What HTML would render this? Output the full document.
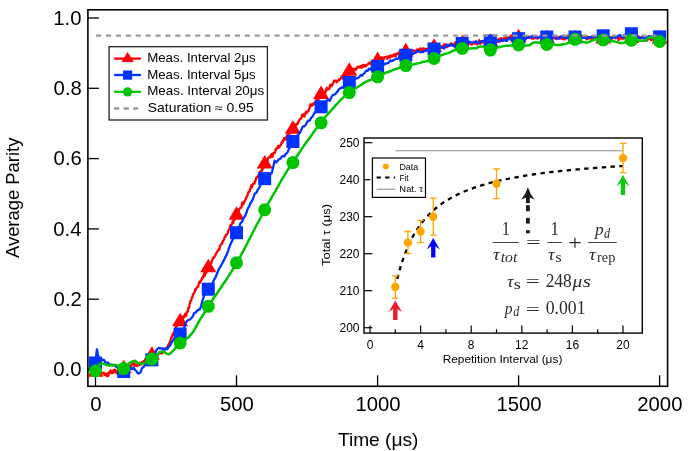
<!DOCTYPE html>
<html><head><meta charset="utf-8"><title>Average Parity vs Time</title>
<style>html,body{margin:0;padding:0;background:#fff}body{width:691px;height:451px;overflow:hidden;font-family:"Liberation Sans",sans-serif}</style></head>
<body>
<svg width="691" height="451" viewBox="0 0 691 451" style="display:block;font-family:'Liberation Sans',sans-serif;will-change:transform">
<rect width="691" height="451" fill="#fff"/>
<rect x="87.9" y="9.8" width="579.7" height="376.5" fill="none" stroke="#000" stroke-width="1.6"/>
<line x1="87.9" y1="369.5" x2="98.9" y2="369.5" stroke="#000" stroke-width="1.3"/>
<text transform="translate(53.30,376.25) scale(1.0300,1)" font-family="'Liberation Sans'" font-style="normal" font-size="19.70" fill="#000">0.0</text>
<line x1="87.9" y1="299.2" x2="98.9" y2="299.2" stroke="#000" stroke-width="1.3"/>
<text transform="translate(53.62,305.95) scale(1.0300,1)" font-family="'Liberation Sans'" font-style="normal" font-size="19.70" fill="#000">0.2</text>
<line x1="87.9" y1="228.9" x2="98.9" y2="228.9" stroke="#000" stroke-width="1.3"/>
<text transform="translate(53.30,235.65) scale(1.0300,1)" font-family="'Liberation Sans'" font-style="normal" font-size="19.70" fill="#000">0.4</text>
<line x1="87.9" y1="158.6" x2="98.9" y2="158.6" stroke="#000" stroke-width="1.3"/>
<text transform="translate(53.62,165.35) scale(1.0300,1)" font-family="'Liberation Sans'" font-style="normal" font-size="19.70" fill="#000">0.6</text>
<line x1="87.9" y1="88.3" x2="98.9" y2="88.3" stroke="#000" stroke-width="1.3"/>
<text transform="translate(53.62,95.05) scale(1.0300,1)" font-family="'Liberation Sans'" font-style="normal" font-size="19.70" fill="#000">0.8</text>
<line x1="87.9" y1="18.0" x2="98.9" y2="18.0" stroke="#000" stroke-width="1.3"/>
<text transform="translate(53.30,24.75) scale(1.0300,1)" font-family="'Liberation Sans'" font-style="normal" font-size="19.70" fill="#000">1.0</text>
<line x1="95.5" y1="386.3" x2="95.5" y2="375.3" stroke="#000" stroke-width="1.3"/>
<text transform="translate(90.29,410.60) scale(1.0300,1)" font-family="'Liberation Sans'" font-style="normal" font-size="19.70" fill="#000">0</text>
<line x1="236.5" y1="386.3" x2="236.5" y2="375.3" stroke="#000" stroke-width="1.3"/>
<text transform="translate(220.03,410.60) scale(1.0300,1)" font-family="'Liberation Sans'" font-style="normal" font-size="19.70" fill="#000">500</text>
<line x1="377.6" y1="386.3" x2="377.6" y2="375.3" stroke="#000" stroke-width="1.3"/>
<text transform="translate(355.50,410.60) scale(1.0300,1)" font-family="'Liberation Sans'" font-style="normal" font-size="19.70" fill="#000">1000</text>
<line x1="518.6" y1="386.3" x2="518.6" y2="375.3" stroke="#000" stroke-width="1.3"/>
<text transform="translate(496.52,410.60) scale(1.0300,1)" font-family="'Liberation Sans'" font-style="normal" font-size="19.70" fill="#000">1500</text>
<line x1="659.6" y1="386.3" x2="659.6" y2="375.3" stroke="#000" stroke-width="1.3"/>
<text transform="translate(637.31,410.60) scale(1.0300,1)" font-family="'Liberation Sans'" font-style="normal" font-size="19.70" fill="#000">2000</text>
<text transform="translate(337.90,445.60) scale(1.0647,1)" font-family="'Liberation Sans'" font-style="normal" font-size="18.00" fill="#000">Time (μs)</text>
<text transform="translate(18.80,258.00) rotate(-90) scale(1.0459,1)" font-family="'Liberation Sans'" font-style="normal" font-size="17.60" fill="#000">Average Parity</text>
<polyline points="95.5,373.6 96.1,372.0 96.6,371.9 97.2,373.0 97.7,372.2 98.3,372.5 98.9,371.8 99.4,370.9 100.0,373.0 100.5,372.5 101.1,372.0 101.7,372.8 102.2,373.4 102.8,373.1 103.3,373.4 103.9,372.6 104.5,375.1 105.0,374.8 105.6,374.8 106.1,373.6 106.7,376.1 107.3,374.4 107.8,373.5 108.4,375.9 108.9,373.2 109.5,371.6 110.1,372.0 110.6,370.4 111.2,373.2 111.7,371.6 112.3,371.1 112.9,373.0 113.4,370.3 114.0,371.9 114.5,369.6 115.1,370.6 115.7,370.2 116.2,372.6 116.8,373.3 117.3,371.8 117.9,372.8 118.5,371.5 119.0,372.1 119.6,370.1 120.1,368.6 120.7,368.5 121.3,370.4 121.8,372.1 122.4,370.0 122.9,368.8 123.5,370.8 124.1,369.4 124.6,368.5 125.2,369.4 125.7,369.3 126.3,369.5 126.9,368.0 127.4,369.9 128.0,368.7 128.5,369.9 129.1,367.8 129.7,365.6 130.2,367.3 130.8,368.2 131.3,365.4 131.9,364.4 132.5,364.0 133.0,363.5 133.6,364.1 134.1,363.3 134.7,365.8 135.3,364.4 135.8,364.6 136.4,365.8 136.9,366.1 137.5,364.5 138.1,364.8 138.6,365.3 139.2,364.4 139.7,362.8 140.3,364.8 140.9,364.5 141.4,363.5 142.0,362.1 142.5,362.4 143.1,361.7 143.7,361.1 144.2,362.2 144.8,360.8 145.3,359.5 145.9,358.8 146.5,359.3 147.0,358.4 147.6,359.3 148.1,358.3 148.7,358.8 149.3,360.8 149.8,359.2 150.4,357.2 150.9,356.5 151.5,355.0 152.1,355.8 152.6,356.1 153.2,354.6 153.7,356.7 154.3,356.5 154.9,358.0 155.4,356.4 156.0,357.4 156.5,354.6 157.1,354.1 157.7,354.3 158.2,354.5 158.8,353.8 159.3,352.1 159.9,353.0 160.5,353.3 161.0,352.5 161.6,352.0 162.1,353.4 162.7,351.2 163.3,350.0 163.8,351.2 164.4,349.9 164.9,349.3 165.5,349.6 166.1,348.4 166.6,347.6 167.2,347.3 167.7,346.5 168.3,344.9 168.9,344.6 169.4,342.9 170.0,342.6 170.5,339.8 171.1,337.7 171.7,337.9 172.2,335.5 172.8,333.8 173.3,335.1 173.9,332.5 174.5,332.1 175.0,329.8 175.6,328.0 176.1,326.0 176.7,326.3 177.3,325.8 177.8,324.7 178.4,324.1 178.9,322.5 179.5,322.8 180.1,320.2 180.6,320.8 181.2,321.3 181.7,320.6 182.3,320.8 182.9,316.4 183.4,317.9 184.0,317.2 184.5,316.9 185.1,313.8 185.7,315.6 186.2,315.7 186.8,311.9 187.3,311.9 187.9,311.2 188.5,307.5 189.0,307.9 189.6,304.3 190.1,302.2 190.7,300.8 191.3,300.2 191.8,297.6 192.4,297.3 192.9,294.6 193.5,293.8 194.1,293.5 194.6,292.2 195.2,289.3 195.7,290.1 196.3,288.1 196.9,287.7 197.4,286.7 198.0,286.9 198.5,285.2 199.1,282.1 199.7,281.7 200.2,282.5 200.8,280.1 201.3,280.4 201.9,279.0 202.5,277.2 203.0,277.9 203.6,275.3 204.1,273.5 204.7,276.0 205.3,271.5 205.8,273.0 206.4,272.5 206.9,270.8 207.5,268.1 208.1,269.6 208.6,266.0 209.2,264.5 209.7,264.1 210.3,264.4 210.9,263.2 211.4,262.9 212.0,260.6 212.5,259.9 213.1,257.8 213.7,257.4 214.2,257.3 214.8,256.0 215.3,255.7 215.9,254.0 216.5,252.7 217.0,252.4 217.6,250.8 218.1,250.4 218.7,249.2 219.3,249.8 219.8,246.4 220.4,245.9 220.9,244.3 221.5,244.1 222.1,243.6 222.6,241.6 223.2,240.8 223.7,240.0 224.3,238.3 224.9,236.7 225.4,236.8 226.0,234.9 226.5,234.8 227.1,234.3 227.7,233.2 228.2,230.9 228.8,230.0 229.3,229.4 229.9,227.3 230.5,225.0 231.0,226.8 231.6,224.3 232.1,223.6 232.7,221.5 233.3,222.9 233.8,220.2 234.4,219.9 234.9,217.6 235.5,217.6 236.1,216.3 236.6,214.8 237.2,214.1 237.7,213.2 238.3,212.4 238.9,209.8 239.4,208.8 240.0,208.3 240.5,207.6 241.1,207.6 241.7,206.5 242.2,202.6 242.8,204.3 243.3,204.4 243.9,202.4 244.5,200.9 245.0,201.0 245.6,199.1 246.1,198.6 246.7,196.3 247.3,196.0 247.8,194.0 248.4,192.0 248.9,192.1 249.5,191.6 250.1,189.2 250.6,188.0 251.2,185.4 251.7,187.7 252.3,185.9 252.9,184.1 253.4,183.6 254.0,183.1 254.5,183.5 255.1,181.1 255.7,180.0 256.2,178.0 256.8,177.3 257.3,177.6 257.9,176.3 258.5,175.1 259.0,175.1 259.6,172.3 260.1,171.8 260.7,172.2 261.3,172.0 261.8,169.4 262.4,170.0 262.9,167.0 263.5,167.0 264.1,165.1 264.6,163.1 265.2,163.4 265.7,163.4 266.3,161.5 266.9,161.2 267.4,161.6 268.0,158.5 268.5,157.5 269.1,157.3 269.7,156.4 270.2,157.6 270.8,156.0 271.3,154.1 271.9,154.5 272.5,156.9 273.0,153.5 273.6,152.9 274.1,153.3 274.7,153.0 275.3,151.4 275.8,149.3 276.4,148.3 276.9,148.9 277.5,147.6 278.1,145.8 278.6,147.8 279.2,147.2 279.7,146.2 280.3,145.6 280.9,145.1 281.4,143.4 282.0,141.7 282.5,142.6 283.1,139.8 283.7,140.4 284.2,138.1 284.8,138.9 285.3,138.1 285.9,139.5 286.5,136.5 287.0,135.4 287.6,135.3 288.1,133.6 288.7,133.1 289.3,133.7 289.8,133.5 290.4,133.3 290.9,130.5 291.5,133.2 292.1,131.5 292.6,129.0 293.2,127.1 293.7,128.6 294.3,127.4 294.9,124.9 295.4,125.9 296.0,124.8 296.5,123.7 297.1,124.3 297.7,123.8 298.2,122.0 298.8,121.6 299.3,120.0 299.9,119.2 300.5,118.9 301.0,118.6 301.6,117.2 302.1,114.9 302.7,116.3 303.3,114.3 303.8,115.4 304.4,116.5 304.9,114.4 305.5,112.8 306.1,111.7 306.6,113.0 307.2,111.6 307.7,111.2 308.3,111.3 308.9,109.3 309.4,108.3 310.0,106.4 310.5,104.1 311.1,104.7 311.7,105.8 312.2,104.9 312.8,105.1 313.3,103.5 313.9,103.4 314.5,103.7 315.0,102.2 315.6,102.0 316.1,100.1 316.7,101.9 317.3,100.0 317.8,99.8 318.4,99.6 318.9,98.8 319.5,96.1 320.1,96.1 320.6,93.2 321.2,94.5 321.7,94.2 322.3,92.5 322.9,94.8 323.4,92.5 324.0,93.7 324.5,91.8 325.1,92.7 325.7,92.0 326.2,89.3 326.8,87.8 327.3,88.7 327.9,89.6 328.5,89.2 329.0,88.3 329.6,88.4 330.1,85.0 330.7,86.1 331.3,84.6 331.8,86.1 332.4,84.6 332.9,83.6 333.5,82.7 334.1,80.6 334.6,81.4 335.2,80.9 335.7,80.6 336.3,80.6 336.9,82.4 337.4,80.9 338.0,80.8 338.5,80.8 339.1,79.3 339.7,79.7 340.2,78.8 340.8,78.3 341.3,77.1 341.9,76.3 342.5,77.3 343.0,78.5 343.6,75.7 344.1,77.0 344.7,76.3 345.3,76.9 345.8,76.1 346.4,75.8 346.9,72.0 347.5,73.0 348.1,71.7 348.6,71.7 349.2,70.9 349.7,70.2 350.3,71.6 350.9,72.5 351.4,67.8 352.0,69.9 352.5,70.4 353.1,69.6 353.7,69.1 354.2,68.6 354.8,69.0 355.3,70.0 355.9,69.8 356.5,68.6 357.0,67.3 357.6,67.1 358.1,66.8 358.7,67.5 359.3,67.1 359.8,66.4 360.4,67.3 360.9,66.0 361.5,67.7 362.1,67.5 362.6,65.2 363.2,66.7 363.7,64.8 364.3,66.4 364.9,66.4 365.4,65.2 366.0,66.4 366.5,64.9 367.1,64.8 367.7,64.3 368.2,64.0 368.8,63.1 369.3,63.6 369.9,62.4 370.5,63.4 371.0,63.5 371.6,62.3 372.1,60.8 372.7,63.0 373.3,63.1 373.8,62.0 374.4,60.3 374.9,61.1 375.5,61.9 376.1,59.0 376.6,60.3 377.2,59.5 377.7,59.3 378.3,60.1 378.9,58.1 379.4,59.4 380.0,60.2 380.5,59.4 381.1,58.3 381.7,57.3 382.2,58.4 382.8,57.7 383.3,60.2 383.9,58.5 384.5,57.6 385.0,56.8 385.6,57.0 386.1,57.2 386.7,56.7 387.3,59.0 387.8,56.8 388.4,56.3 388.9,57.1 389.5,57.6 390.1,57.1 390.6,55.1 391.2,55.9 391.7,56.3 392.3,56.6 392.9,56.3 393.4,55.0 394.0,54.5 394.5,55.7 395.1,54.1 395.7,56.4 396.2,54.9 396.8,53.7 397.3,54.1 397.9,53.1 398.5,53.4 399.0,54.2 399.6,51.2 400.1,50.5 400.7,53.1 401.3,52.5 401.8,52.4 402.4,53.6 402.9,52.9 403.5,53.5 404.1,52.1 404.6,53.3 405.2,52.0 405.7,51.9 406.3,52.9 406.9,52.8 407.4,50.2 408.0,50.7 408.5,51.8 409.1,52.8 409.7,50.7 410.2,51.4 410.8,50.1 411.3,53.4 411.9,51.3 412.5,51.1 413.0,50.3 413.6,50.6 414.1,51.1 414.7,50.6 415.3,51.7 415.8,51.3 416.4,52.5 416.9,49.8 417.5,49.5 418.1,50.8 418.6,51.3 419.2,50.1 419.7,48.6 420.3,48.9 420.9,48.4 421.4,50.0 422.0,48.9 422.5,49.7 423.1,49.2 423.7,48.3 424.2,50.3 424.8,50.6 425.3,49.4 425.9,48.7 426.5,50.3 427.0,49.1 427.6,50.1 428.1,48.9 428.7,48.4 429.3,49.0 429.8,48.3 430.4,49.7 430.9,47.3 431.5,47.1 432.1,45.8 432.6,45.3 433.2,45.6 433.7,48.1 434.3,46.9 434.9,49.0 435.4,48.7 436.0,46.5 436.5,47.6 437.1,46.1 437.7,47.0 438.2,46.0 438.8,47.0 439.3,45.6 439.9,47.9 440.5,46.7 441.0,46.8 441.6,47.7 442.1,46.7 442.7,46.1 443.3,46.5 443.8,46.4 444.4,44.1 444.9,46.7 445.5,46.3 446.1,45.4 446.6,46.7 447.2,44.7 447.7,46.9 448.3,45.3 448.9,44.8 449.4,45.5 450.0,44.4 450.5,45.0 451.1,43.4 451.7,44.6 452.2,44.0 452.8,45.0 453.3,45.7 453.9,45.1 454.5,44.8 455.0,42.4 455.6,42.4 456.1,43.1 456.7,43.9 457.3,44.2 457.8,44.3 458.4,44.5 458.9,43.5 459.5,43.0 460.1,44.4 460.6,42.7 461.2,43.8 461.7,45.2 462.3,44.4 462.9,44.7 463.4,43.6 464.0,45.7 464.5,41.5 465.1,42.4 465.7,42.8 466.2,45.3 466.8,44.3 467.3,44.2 467.9,43.0 468.5,44.2 469.0,43.5 469.6,42.9 470.1,42.5 470.7,43.1 471.3,44.6 471.8,44.6 472.4,44.1 472.9,43.4 473.5,41.8 474.1,43.0 474.6,42.4 475.2,43.4 475.7,44.1 476.3,43.2 476.9,42.6 477.4,44.3 478.0,43.7 478.5,42.7 479.1,40.2 479.7,43.2 480.2,43.7 480.8,43.5 481.3,41.1 481.9,41.3 482.5,41.3 483.0,42.6 483.6,41.5 484.1,42.6 484.7,41.9 485.3,42.7 485.8,40.7 486.4,42.3 486.9,41.9 487.5,41.6 488.1,42.2 488.6,42.2 489.2,40.3 489.7,42.3 490.3,42.0 490.9,41.2 491.4,43.0 492.0,41.1 492.5,42.4 493.1,40.9 493.7,40.9 494.2,42.7 494.8,43.6 495.3,42.2 495.9,42.3 496.5,41.0 497.0,39.7 497.6,40.7 498.1,41.9 498.7,39.1 499.3,39.4 499.8,38.6 500.4,40.1 500.9,40.6 501.5,38.1 502.1,39.5 502.6,41.1 503.2,39.8 503.7,38.5 504.3,38.4 504.9,37.5 505.4,39.7 506.0,38.1 506.5,39.1 507.1,39.2 507.7,37.4 508.2,37.3 508.8,38.3 509.3,38.0 509.9,37.4 510.5,36.0 511.0,38.0 511.6,36.3 512.1,35.1 512.7,37.1 513.3,38.0 513.8,39.6 514.4,37.4 514.9,36.3 515.5,39.1 516.1,37.0 516.6,36.7 517.2,36.1 517.7,36.2 518.3,38.1 518.9,36.6 519.4,36.2 520.0,36.4 520.5,38.3 521.1,36.2 521.7,37.3 522.2,37.0 522.8,36.4 523.3,35.6 523.9,37.4 524.5,38.5 525.0,36.9 525.6,36.8 526.1,36.2 526.7,38.0 527.3,37.7 527.8,37.7 528.4,37.9 528.9,36.5 529.5,38.0 530.1,37.3 530.6,37.5 531.2,37.6 531.7,38.6 532.3,38.1 532.9,37.2 533.4,38.7 534.0,37.0 534.5,36.6 535.1,36.0 535.7,38.0 536.2,37.1 536.8,37.8 537.3,38.5 537.9,37.8 538.5,38.2 539.0,37.8 539.6,37.1 540.1,37.1 540.7,37.1 541.3,38.4 541.8,38.3 542.4,37.8 542.9,38.8 543.5,38.0 544.1,37.0 544.6,35.9 545.2,37.5 545.7,37.6 546.3,37.2 546.9,36.9 547.4,36.3 548.0,37.5 548.5,37.7 549.1,37.8 549.7,37.4 550.2,36.7 550.8,36.8 551.3,36.8 551.9,35.9 552.5,38.0 553.0,37.9 553.6,38.3 554.1,37.3 554.7,37.6 555.3,36.7 555.8,38.9 556.4,36.1 556.9,38.0 557.5,37.5 558.1,38.4 558.6,37.8 559.2,37.0 559.7,36.8 560.3,37.4 560.9,38.5 561.4,38.1 562.0,38.7 562.5,37.9 563.1,38.2 563.7,39.4 564.2,38.0 564.8,37.9 565.3,39.0 565.9,37.8 566.5,36.4 567.0,36.9 567.6,35.8 568.1,37.1 568.7,39.1 569.3,39.5 569.8,36.6 570.4,39.1 570.9,40.3 571.5,37.7 572.1,38.4 572.6,39.6 573.2,37.9 573.7,38.3 574.3,38.3 574.9,37.3 575.4,39.1 576.0,37.8 576.5,38.8 577.1,39.2 577.7,37.7 578.2,36.4 578.8,38.2 579.3,38.7 579.9,39.4 580.5,36.5 581.0,37.2 581.6,35.9 582.1,38.0 582.7,37.8 583.3,37.7 583.8,37.2 584.4,37.3 584.9,36.9 585.5,37.2 586.1,37.2 586.6,39.4 587.2,38.3 587.7,36.7 588.3,37.1 588.9,38.3 589.4,37.9 590.0,37.6 590.5,38.4 591.1,38.9 591.7,36.9 592.2,36.9 592.8,36.3 593.3,38.0 593.9,37.0 594.5,36.6 595.0,36.4 595.6,37.2 596.1,36.5 596.7,36.1 597.3,37.8 597.8,35.7 598.4,35.9 598.9,40.2 599.5,38.0 600.1,38.0 600.6,38.0 601.2,38.5 601.7,38.5 602.3,38.7 602.9,38.7 603.4,37.0 604.0,35.9 604.5,37.6 605.1,38.3 605.7,38.0 606.2,37.5 606.8,38.6 607.3,37.5 607.9,37.8 608.5,36.7 609.0,37.4 609.6,37.6 610.1,37.2 610.7,37.9 611.3,38.9 611.8,38.7 612.4,37.0 612.9,36.6 613.5,37.6 614.1,36.9 614.6,37.5 615.2,38.3 615.7,38.2 616.3,37.4 616.9,37.8 617.4,38.0 618.0,37.3 618.5,40.0 619.1,39.4 619.7,37.4 620.2,37.1 620.8,37.3 621.3,37.7 621.9,38.8 622.5,38.5 623.0,38.5 623.6,38.5 624.1,38.2 624.7,37.7 625.3,37.9 625.8,37.4 626.4,36.4 626.9,38.4 627.5,40.1 628.1,37.6 628.6,37.2 629.2,38.4 629.7,37.3 630.3,37.2 630.9,38.9 631.4,38.5 632.0,38.8 632.5,38.0 633.1,38.6 633.7,38.9 634.2,38.6 634.8,38.5 635.3,37.6 635.9,36.5 636.5,36.7 637.0,35.1 637.6,36.9 638.1,37.3 638.7,36.9 639.3,36.7 639.8,38.1 640.4,37.4 640.9,38.3 641.5,38.0 642.1,36.6 642.6,37.0 643.2,37.7 643.7,38.1 644.3,38.5 644.9,38.3 645.4,38.5 646.0,38.4 646.5,39.3 647.1,40.5 647.7,39.2 648.2,39.1 648.8,39.1 649.3,36.4 649.9,38.0 650.5,38.0 651.0,40.1 651.6,40.3 652.1,37.9 652.7,37.8 653.3,37.9 653.8,36.1 654.4,35.6 654.9,35.8 655.5,37.4 656.1,36.1 656.6,38.8 657.2,38.2 657.7,39.0 658.3,39.5 658.9,37.4 659.4,36.6" fill="none" stroke="#ff0000" stroke-width="2.3" stroke-linejoin="round"/>
<polygon points="95.5,363.2 87.5,376.8 103.5,376.8" fill="#ff0000"/>
<polygon points="123.7,359.7 115.7,373.3 131.7,373.3" fill="#ff0000"/>
<polygon points="151.9,346.2 143.9,359.8 159.9,359.8" fill="#ff0000"/>
<polygon points="180.1,312.7 172.1,326.3 188.1,326.3" fill="#ff0000"/>
<polygon points="208.3,258.7 200.3,272.3 216.3,272.3" fill="#ff0000"/>
<polygon points="236.5,206.2 228.5,219.8 244.5,219.8" fill="#ff0000"/>
<polygon points="264.7,155.0 256.7,168.6 272.7,168.6" fill="#ff0000"/>
<polygon points="292.9,120.2 284.9,133.8 300.9,133.8" fill="#ff0000"/>
<polygon points="321.1,85.4 313.1,99.0 329.1,99.0" fill="#ff0000"/>
<polygon points="349.3,62.2 341.3,75.8 357.3,75.8" fill="#ff0000"/>
<polygon points="377.6,51.6 369.6,65.2 385.6,65.2" fill="#ff0000"/>
<polygon points="405.8,42.8 397.8,56.4 413.8,56.4" fill="#ff0000"/>
<polygon points="434.0,38.2 426.0,51.8 442.0,51.8" fill="#ff0000"/>
<polygon points="462.2,34.8 454.2,48.4 470.2,48.4" fill="#ff0000"/>
<polygon points="490.4,33.2 482.4,46.8 498.4,46.8" fill="#ff0000"/>
<polygon points="518.6,28.8 510.6,42.4 526.6,42.4" fill="#ff0000"/>
<polygon points="546.8,29.7 538.8,43.3 554.8,43.3" fill="#ff0000"/>
<polygon points="575.0,29.7 567.0,43.3 583.0,43.3" fill="#ff0000"/>
<polygon points="603.2,29.8 595.2,43.4 611.2,43.4" fill="#ff0000"/>
<polygon points="631.4,29.4 623.4,43.0 639.4,43.0" fill="#ff0000"/>
<polygon points="659.6,29.9 651.6,43.5 667.6,43.5" fill="#ff0000"/>
<polyline points="95.5,361.8 96.9,349.3 98.3,356.5 99.7,358.8 101.1,358.9 102.5,360.0 104.0,359.9 105.4,362.5 106.8,362.7 108.2,362.7 109.6,365.4 111.0,364.5 112.4,365.5 113.8,365.0 115.2,365.9 116.6,367.1 118.1,368.2 119.5,370.5 120.9,370.0 122.3,371.9 123.7,371.3 125.1,371.8 126.5,370.4 127.9,368.8 129.3,370.0 130.7,367.9 132.2,369.2 133.6,367.5 135.0,369.8 136.4,371.0 137.8,373.3 139.2,373.3 140.6,372.2 142.0,368.2 143.4,367.1 144.8,365.0 146.3,364.3 147.7,364.6 149.1,363.8 150.5,361.9 151.9,361.1 153.3,358.4 154.7,354.6 156.1,350.7 157.5,348.9 158.9,347.9 160.4,348.3 161.8,348.7 163.2,348.4 164.6,349.7 166.0,348.0 167.4,349.0 168.8,346.8 170.2,345.2 171.6,342.2 173.0,340.3 174.5,338.6 175.9,338.3 177.3,338.9 178.7,335.6 180.1,333.1 181.5,333.1 182.9,329.8 184.3,327.3 185.7,323.3 187.1,320.8 188.6,320.0 190.0,319.5 191.4,318.0 192.8,316.4 194.2,312.8 195.6,312.7 197.0,310.8 198.4,309.8 199.8,309.3 201.2,305.6 202.7,299.9 204.1,295.6 205.5,293.7 206.9,292.5 208.3,290.2 209.7,287.6 211.1,283.9 212.5,284.1 213.9,279.8 215.3,277.8 216.8,274.3 218.2,270.3 219.6,268.0 221.0,265.7 222.4,263.0 223.8,260.4 225.2,257.4 226.6,254.9 228.0,251.2 229.4,247.0 230.9,243.2 232.3,240.6 233.7,237.0 235.1,235.7 236.5,230.2 237.9,229.0 239.3,227.1 240.7,222.7 242.1,221.9 243.5,218.1 245.0,216.2 246.4,212.8 247.8,208.5 249.2,206.3 250.6,202.9 252.0,201.0 253.4,197.7 254.8,193.5 256.2,192.9 257.6,190.1 259.1,187.9 260.5,185.2 261.9,182.2 263.3,181.2 264.7,179.2 266.1,180.6 267.5,177.3 268.9,175.2 270.3,174.1 271.7,173.3 273.2,167.0 274.6,160.7 276.0,162.3 277.4,161.1 278.8,159.3 280.2,158.9 281.6,156.9 283.0,155.9 284.4,156.4 285.8,153.7 287.3,152.9 288.7,149.4 290.1,147.4 291.5,144.5 292.9,141.0 294.3,140.4 295.7,137.4 297.1,136.2 298.5,134.1 299.9,132.6 301.4,129.6 302.8,126.4 304.2,126.3 305.6,125.1 307.0,122.2 308.4,120.6 309.8,120.5 311.2,117.7 312.6,116.6 314.0,113.8 315.5,111.5 316.9,110.7 318.3,110.1 319.7,109.9 321.1,107.4 322.5,104.9 323.9,103.2 325.3,101.2 326.7,100.6 328.1,99.5 329.6,101.0 331.0,98.0 332.4,95.5 333.8,94.6 335.2,94.2 336.6,92.4 338.0,90.9 339.4,88.7 340.8,88.1 342.2,87.4 343.7,87.2 345.1,84.2 346.5,83.3 347.9,83.1 349.3,80.8 350.7,80.6 352.1,80.6 353.5,79.9 354.9,79.0 356.3,78.4 357.8,78.2 359.2,77.1 360.6,75.1 362.0,75.7 363.4,74.0 364.8,72.8 366.2,70.5 367.6,70.8 369.0,68.6 370.4,69.5 371.9,66.8 373.3,67.8 374.7,68.4 376.1,67.6 377.5,67.4 378.9,65.1 380.3,65.2 381.7,65.2 383.1,65.6 384.5,63.6 386.0,63.7 387.4,63.2 388.8,62.7 390.2,60.4 391.6,61.1 393.0,60.4 394.4,59.9 395.8,58.7 397.2,59.0 398.6,58.4 400.1,55.1 401.5,57.4 402.9,56.6 404.3,55.5 405.7,54.2 407.1,54.3 408.5,55.0 409.9,53.9 411.3,54.9 412.7,54.0 414.2,53.3 415.6,52.1 417.0,51.0 418.4,51.5 419.8,52.0 421.2,51.8 422.6,52.1 424.0,51.4 425.4,50.4 426.8,50.5 428.3,49.1 429.7,49.4 431.1,49.9 432.5,48.3 433.9,47.0 435.3,47.7 436.7,47.6 438.1,48.8 439.5,47.6 440.9,46.6 442.4,47.2 443.8,48.6 445.2,47.4 446.6,44.7 448.0,45.7 449.4,45.4 450.8,45.5 452.2,44.5 453.6,45.9 455.0,46.8 456.5,43.5 457.9,43.3 459.3,42.7 460.7,42.7 462.1,43.9 463.5,44.7 464.9,44.0 466.3,41.4 467.7,41.9 469.1,41.6 470.6,42.0 472.0,42.6 473.4,43.0 474.8,41.8 476.2,41.2 477.6,43.0 479.0,42.8 480.4,41.8 481.8,41.3 483.2,40.9 484.7,40.6 486.1,41.8 487.5,39.8 488.9,40.0 490.3,42.8 491.7,41.8 493.1,40.1 494.5,39.7 495.9,40.2 497.3,40.8 498.8,40.8 500.2,41.4 501.6,39.7 503.0,40.5 504.4,39.5 505.8,41.0 507.2,40.6 508.6,38.7 510.0,37.7 511.4,40.1 512.9,39.7 514.3,39.0 515.7,37.5 517.1,38.7 518.5,39.7 519.9,38.0 521.3,37.9 522.7,37.8 524.1,38.9 525.5,39.4 527.0,36.7 528.4,37.9 529.8,37.4 531.2,36.7 532.6,35.8 534.0,37.1 535.4,36.7 536.8,36.9 538.2,38.0 539.6,36.7 541.1,37.2 542.5,35.8 543.9,36.4 545.3,36.3 546.7,36.5 548.1,35.6 549.5,39.1 550.9,37.9 552.3,36.5 553.7,35.5 555.2,37.2 556.6,38.5 558.0,38.7 559.4,38.5 560.8,36.4 562.2,36.9 563.6,35.5 565.0,37.5 566.4,38.2 567.8,37.6 569.3,37.9 570.7,37.8 572.1,36.9 573.5,37.2 574.9,35.6 576.3,37.4 577.7,36.1 579.1,37.0 580.5,37.7 581.9,38.1 583.4,37.5 584.8,37.9 586.2,37.1 587.6,38.8 589.0,37.1 590.4,37.3 591.8,36.6 593.2,37.3 594.6,36.6 596.0,36.7 597.5,36.5 598.9,36.7 600.3,37.4 601.7,37.4 603.1,36.9 604.5,37.5 605.9,36.2 607.3,37.2 608.7,38.0 610.1,37.9 611.6,38.2 613.0,36.6 614.4,37.7 615.8,36.4 617.2,37.3 618.6,35.6 620.0,35.2 621.4,36.4 622.8,37.4 624.2,35.0 625.7,35.1 627.1,35.7 628.5,34.6 629.9,34.0 631.3,32.8 632.7,34.7 634.1,34.8 635.5,35.4 636.9,35.5 638.3,37.7 639.8,38.3 641.2,37.7 642.6,37.3 644.0,38.2 645.4,38.0 646.8,37.4 648.2,36.5 649.6,36.6 651.0,36.3 652.4,37.7 653.9,38.2 655.3,37.7 656.7,38.4 658.1,36.5 659.5,37.1" fill="none" stroke="#0033ff" stroke-width="2.3" stroke-linejoin="round"/>
<rect x="89.0" y="356.5" width="13.0" height="13.0" fill="#0033ff"/>
<rect x="117.2" y="365.0" width="13.0" height="13.0" fill="#0033ff"/>
<rect x="145.4" y="353.3" width="13.0" height="13.0" fill="#0033ff"/>
<rect x="173.6" y="327.5" width="13.0" height="13.0" fill="#0033ff"/>
<rect x="201.8" y="282.7" width="13.0" height="13.0" fill="#0033ff"/>
<rect x="230.0" y="226.2" width="13.0" height="13.0" fill="#0033ff"/>
<rect x="258.2" y="172.1" width="13.0" height="13.0" fill="#0033ff"/>
<rect x="286.4" y="135.0" width="13.0" height="13.0" fill="#0033ff"/>
<rect x="314.6" y="100.3" width="13.0" height="13.0" fill="#0033ff"/>
<rect x="342.8" y="76.0" width="13.0" height="13.0" fill="#0033ff"/>
<rect x="371.1" y="59.8" width="13.0" height="13.0" fill="#0033ff"/>
<rect x="399.3" y="48.7" width="13.0" height="13.0" fill="#0033ff"/>
<rect x="427.5" y="42.5" width="13.0" height="13.0" fill="#0033ff"/>
<rect x="455.7" y="37.0" width="13.0" height="13.0" fill="#0033ff"/>
<rect x="483.9" y="34.5" width="13.0" height="13.0" fill="#0033ff"/>
<rect x="512.1" y="32.2" width="13.0" height="13.0" fill="#0033ff"/>
<rect x="540.3" y="30.5" width="13.0" height="13.0" fill="#0033ff"/>
<rect x="568.5" y="30.5" width="13.0" height="13.0" fill="#0033ff"/>
<rect x="596.7" y="29.3" width="13.0" height="13.0" fill="#0033ff"/>
<rect x="624.9" y="27.2" width="13.0" height="13.0" fill="#0033ff"/>
<rect x="653.1" y="30.4" width="13.0" height="13.0" fill="#0033ff"/>
<polyline points="95.5,370.9 98.3,365.5 101.1,363.2 104.0,363.9 106.8,365.0 109.6,365.4 112.4,365.0 115.2,364.9 118.1,365.8 120.9,367.8 123.7,368.5 126.5,366.7 129.3,363.2 132.2,361.5 135.0,360.8 137.8,362.9 140.6,363.8 143.4,363.4 146.3,362.2 149.1,360.4 151.9,359.1 154.7,356.8 157.5,354.3 160.4,351.9 163.2,351.3 166.0,353.4 168.8,354.4 171.6,352.2 174.5,349.3 177.3,345.6 180.1,342.4 182.9,340.4 185.7,339.2 188.6,337.2 191.4,334.2 194.2,330.1 197.0,325.1 199.8,319.8 202.7,315.5 205.5,310.9 208.3,306.5 211.1,301.9 213.9,297.8 216.8,293.7 219.6,289.6 222.4,285.3 225.2,281.3 228.0,277.1 230.9,272.5 233.7,268.0 236.5,263.2 239.3,258.6 242.1,253.1 245.0,247.9 247.8,242.2 250.6,236.9 253.4,231.3 256.2,225.7 259.1,220.5 261.9,215.3 264.7,209.9 267.5,204.7 270.3,199.8 273.2,194.7 276.0,190.2 278.8,185.0 281.6,179.9 284.4,175.4 287.3,170.7 290.1,165.9 292.9,161.9 295.7,158.0 298.5,153.7 301.4,149.5 304.2,145.3 307.0,141.5 309.8,137.7 312.6,133.8 315.5,129.5 318.3,125.8 321.1,122.3 323.9,118.4 326.7,115.4 329.6,112.2 332.4,109.1 335.2,105.6 338.0,102.9 340.8,99.7 343.7,97.1 346.5,94.8 349.3,92.6 352.1,90.5 354.9,88.7 357.8,87.0 360.6,85.3 363.4,83.2 366.2,81.7 369.0,80.5 371.9,79.4 374.7,77.8 377.5,76.7 380.3,75.6 383.1,74.0 386.0,72.6 388.8,71.7 391.6,70.7 394.4,69.3 397.2,68.7 400.1,67.6 402.9,67.0 405.7,66.3 408.5,65.5 411.3,64.7 414.2,64.3 417.0,63.5 419.8,62.9 422.6,62.1 425.4,61.6 428.3,60.7 431.1,59.5 433.9,58.7 436.7,57.8 439.5,56.2 442.4,54.8 445.2,53.9 448.0,53.1 450.8,51.8 453.6,50.5 456.5,49.5 459.3,48.8 462.1,48.1 464.9,47.9 467.7,48.3 470.6,48.5 473.4,48.3 476.2,48.3 479.0,46.7 481.8,46.4 484.7,47.5 487.5,48.8 490.3,49.5 493.1,49.3 495.9,48.3 498.8,47.2 501.6,46.6 504.4,45.9 507.2,45.7 510.0,45.6 512.9,45.6 515.7,44.8 518.5,44.6 521.3,45.1 524.1,45.5 527.0,45.5 529.8,45.3 532.6,42.9 535.4,42.2 538.2,42.6 541.1,43.0 543.9,43.4 546.7,44.2 549.5,44.1 552.3,44.3 555.2,44.8 558.0,44.9 560.8,44.7 563.6,44.3 566.4,43.6 569.3,42.6 572.1,40.4 574.9,39.5 577.7,39.8 580.5,41.1 583.4,42.0 586.2,42.8 589.0,42.1 591.8,40.6 594.6,39.5 597.5,39.5 600.3,39.8 603.1,40.1 605.9,40.6 608.7,40.7 611.6,41.1 614.4,41.4 617.2,42.1 620.0,43.1 622.8,43.1 625.7,42.2 628.5,40.7 631.3,40.2 634.1,40.6 636.9,40.8 639.8,40.5 642.6,40.7 645.4,40.6 648.2,37.8 651.0,37.2 653.9,37.7 656.7,38.3 659.5,40.5" fill="none" stroke="#00c400" stroke-width="2.5" stroke-linejoin="round"/>
<circle cx="95.5" cy="370.8" r="6.5" fill="#00c400"/>
<circle cx="123.7" cy="368.6" r="6.5" fill="#00c400"/>
<circle cx="151.9" cy="359.1" r="6.5" fill="#00c400"/>
<circle cx="180.1" cy="343.0" r="6.5" fill="#00c400"/>
<circle cx="208.3" cy="306.3" r="6.5" fill="#00c400"/>
<circle cx="236.5" cy="262.8" r="6.5" fill="#00c400"/>
<circle cx="264.7" cy="209.8" r="6.5" fill="#00c400"/>
<circle cx="292.9" cy="162.6" r="6.5" fill="#00c400"/>
<circle cx="321.1" cy="122.8" r="6.5" fill="#00c400"/>
<circle cx="349.3" cy="92.6" r="6.5" fill="#00c400"/>
<circle cx="377.6" cy="76.8" r="6.5" fill="#00c400"/>
<circle cx="405.8" cy="65.6" r="6.5" fill="#00c400"/>
<circle cx="434.0" cy="58.5" r="6.5" fill="#00c400"/>
<circle cx="462.2" cy="48.4" r="6.5" fill="#00c400"/>
<circle cx="490.4" cy="50.1" r="6.5" fill="#00c400"/>
<circle cx="518.6" cy="45.0" r="6.5" fill="#00c400"/>
<circle cx="546.8" cy="44.4" r="6.5" fill="#00c400"/>
<circle cx="575.0" cy="39.3" r="6.5" fill="#00c400"/>
<circle cx="603.2" cy="39.9" r="6.5" fill="#00c400"/>
<circle cx="631.4" cy="40.2" r="6.5" fill="#00c400"/>
<circle cx="659.6" cy="41.5" r="6.5" fill="#00c400"/>
<line x1="96.0" y1="35.6" x2="659.8" y2="35.6" stroke="#999999" stroke-width="2.4" stroke-dasharray="5.1 4.82"/>
<rect x="107.0" y="44.6" width="162.5" height="77.4" fill="#fff"/>
<rect x="109.1" y="46.7" width="158.3" height="73.3" fill="#fff" stroke="#222" stroke-width="1.3"/>
<line x1="114.1" y1="58.6" x2="140.9" y2="58.6" stroke="#ff0000" stroke-width="2.3"/>
<text transform="translate(147.16,62.30) scale(1.0873,1)" font-family="'Liberation Sans'" font-style="normal" font-size="12.20" fill="#000">Meas. Interval 2μs</text>
<line x1="114.1" y1="75.0" x2="140.9" y2="75.0" stroke="#0033ff" stroke-width="2.3"/>
<text transform="translate(147.16,78.90) scale(1.0873,1)" font-family="'Liberation Sans'" font-style="normal" font-size="12.20" fill="#000">Meas. Interval 5μs</text>
<line x1="114.1" y1="91.8" x2="140.9" y2="91.8" stroke="#00c400" stroke-width="2.3"/>
<text transform="translate(147.15,95.40) scale(1.0989,1)" font-family="'Liberation Sans'" font-style="normal" font-size="12.20" fill="#000">Meas. Interval 20μs</text>
<line x1="114.1" y1="108.4" x2="140.9" y2="108.4" stroke="#999999" stroke-width="2.5" stroke-dasharray="5.2 4.3"/>
<text transform="translate(147.76,112.00) scale(1.1418,1)" font-family="'Liberation Sans'" font-style="normal" font-size="12.20" fill="#000">Saturation ≈ 0.95</text>
<polygon points="127.6,52.0 121.5,62.0 133.7,62.0" fill="#ff0000"/>
<rect x="123.0" y="70.5" width="9.2" height="9.2" fill="#0033ff"/>
<circle cx="127.6" cy="91.9" r="4.6" fill="#00c400"/>
<rect x="364.0" y="138.0" width="278.3" height="195.1" fill="#fff" stroke="#000" stroke-width="1.4"/>
<line x1="364.0" y1="327.7" x2="372.3" y2="327.7" stroke="#000" stroke-width="1.2"/>
<text x="359.5" y="332.0" font-size="12" text-anchor="end">200</text>
<line x1="364.0" y1="290.7" x2="372.3" y2="290.7" stroke="#000" stroke-width="1.2"/>
<text x="359.5" y="295.0" font-size="12" text-anchor="end">210</text>
<line x1="364.0" y1="253.7" x2="372.3" y2="253.7" stroke="#000" stroke-width="1.2"/>
<text x="359.5" y="258.0" font-size="12" text-anchor="end">220</text>
<line x1="364.0" y1="216.7" x2="372.3" y2="216.7" stroke="#000" stroke-width="1.2"/>
<text x="359.5" y="221.0" font-size="12" text-anchor="end">230</text>
<line x1="364.0" y1="179.7" x2="372.3" y2="179.7" stroke="#000" stroke-width="1.2"/>
<text x="359.5" y="184.0" font-size="12" text-anchor="end">240</text>
<line x1="364.0" y1="142.7" x2="372.3" y2="142.7" stroke="#000" stroke-width="1.2"/>
<text x="359.5" y="147.0" font-size="12" text-anchor="end">250</text>
<line x1="370.0" y1="333.1" x2="370.0" y2="325.5" stroke="#000" stroke-width="1.2"/>
<text x="370.0" y="349.3" font-size="12" text-anchor="middle">0</text>
<line x1="395.3" y1="333.1" x2="395.3" y2="329.3" stroke="#000" stroke-width="1.2"/>
<line x1="420.6" y1="333.1" x2="420.6" y2="325.5" stroke="#000" stroke-width="1.2"/>
<text x="420.6" y="349.3" font-size="12" text-anchor="middle">4</text>
<line x1="445.9" y1="333.1" x2="445.9" y2="329.3" stroke="#000" stroke-width="1.2"/>
<line x1="471.2" y1="333.1" x2="471.2" y2="325.5" stroke="#000" stroke-width="1.2"/>
<text x="471.2" y="349.3" font-size="12" text-anchor="middle">8</text>
<line x1="496.5" y1="333.1" x2="496.5" y2="329.3" stroke="#000" stroke-width="1.2"/>
<line x1="521.8" y1="333.1" x2="521.8" y2="325.5" stroke="#000" stroke-width="1.2"/>
<text x="521.8" y="349.3" font-size="12" text-anchor="middle">12</text>
<line x1="547.1" y1="333.1" x2="547.1" y2="329.3" stroke="#000" stroke-width="1.2"/>
<line x1="572.4" y1="333.1" x2="572.4" y2="325.5" stroke="#000" stroke-width="1.2"/>
<text x="572.4" y="349.3" font-size="12" text-anchor="middle">16</text>
<line x1="597.7" y1="333.1" x2="597.7" y2="329.3" stroke="#000" stroke-width="1.2"/>
<line x1="623.0" y1="333.1" x2="623.0" y2="325.5" stroke="#000" stroke-width="1.2"/>
<text x="623.0" y="349.3" font-size="12" text-anchor="middle">20</text>
<text transform="translate(442.67,363.40) scale(1.0241,1)" font-family="'Liberation Sans'" font-style="normal" font-size="11.60" fill="#000">Repetition Interval (μs)</text>
<text transform="translate(329.80,266.00) rotate(-90) scale(1.1136,1)" font-family="'Liberation Sans'" font-style="normal" font-size="11.60" fill="#000">Total τ (μs)</text>
<line x1="395.3" y1="150.7" x2="623.0" y2="150.7" stroke="#8c8c8c" stroke-width="1.1"/>
<polyline points="395.3,287.5 397.2,279.2 399.1,271.8 401.0,265.3 403.0,259.4 404.9,254.1 406.8,249.2 408.7,244.8 410.6,240.8 412.5,237.1 414.4,233.7 416.3,230.6 418.3,227.6 420.2,224.9 422.1,222.4 424.0,220.0 425.9,217.8 427.8,215.7 429.7,213.8 431.7,211.9 433.6,210.2 435.5,208.5 437.4,207.0 439.3,205.5 441.2,204.1 443.1,202.8 445.0,201.5 447.0,200.3 448.9,199.2 450.8,198.1 452.7,197.0 454.6,196.0 456.5,195.0 458.4,194.1 460.4,193.2 462.3,192.4 464.2,191.5 466.1,190.8 468.0,190.0 469.9,189.3 471.8,188.6 473.8,187.9 475.7,187.2 477.6,186.6 479.5,186.0 481.4,185.4 483.3,184.8 485.2,184.3 487.1,183.7 489.1,183.2 491.0,182.7 492.9,182.2 494.8,181.7 496.7,181.3 498.6,180.8 500.5,180.4 502.5,180.0 504.4,179.5 506.3,179.1 508.2,178.8 510.1,178.4 512.0,178.0 513.9,177.6 515.8,177.3 517.8,177.0 519.7,176.6 521.6,176.3 523.5,176.0 525.4,175.7 527.3,175.4 529.2,175.1 531.2,174.8 533.1,174.5 535.0,174.2 536.9,174.0 538.8,173.7 540.7,173.4 542.6,173.2 544.5,172.9 546.5,172.7 548.4,172.5 550.3,172.2 552.2,172.0 554.1,171.8 556.0,171.6 557.9,171.3 559.9,171.1 561.8,170.9 563.7,170.7 565.6,170.5 567.5,170.3 569.4,170.1 571.3,170.0 573.3,169.8 575.2,169.6 577.1,169.4 579.0,169.3 580.9,169.1 582.8,168.9 584.7,168.7 586.6,168.6 588.6,168.4 590.5,168.3 592.4,168.1 594.3,168.0 596.2,167.8 598.1,167.7 600.0,167.5 602.0,167.4 603.9,167.3 605.8,167.1 607.7,167.0 609.6,166.8 611.5,166.7 613.4,166.6 615.3,166.5 617.3,166.3 619.2,166.2 621.1,166.1 623.0,166.0" fill="none" stroke="#000" stroke-width="2.3" stroke-dasharray="4.4 4.4"/>
<path d="M395.3 275.9V298.1M392.0 275.9H398.6M392.0 298.1H398.6" stroke="#ffa500" stroke-width="1.3" fill="none"/>
<circle cx="395.3" cy="287.0" r="4.2" fill="#ffa500"/>
<path d="M407.9 231.5V253.7M404.6 231.5H411.2M404.6 253.7H411.2" stroke="#ffa500" stroke-width="1.3" fill="none"/>
<circle cx="407.9" cy="242.6" r="4.2" fill="#ffa500"/>
<path d="M420.6 220.4V242.6M417.3 220.4H423.9M417.3 242.6H423.9" stroke="#ffa500" stroke-width="1.3" fill="none"/>
<circle cx="420.6" cy="231.5" r="4.2" fill="#ffa500"/>
<path d="M433.2 198.2V235.2M429.9 198.2H436.6M429.9 235.2H436.6" stroke="#ffa500" stroke-width="1.3" fill="none"/>
<circle cx="433.2" cy="216.7" r="4.2" fill="#ffa500"/>
<path d="M496.5 169.0V198.6M493.2 169.0H499.8M493.2 198.6H499.8" stroke="#ffa500" stroke-width="1.3" fill="none"/>
<circle cx="496.5" cy="183.8" r="4.2" fill="#ffa500"/>
<path d="M623.0 143.4V172.7M619.7 143.4H626.3M619.7 172.7H626.3" stroke="#ffa500" stroke-width="1.3" fill="none"/>
<circle cx="623.0" cy="158.1" r="4.2" fill="#ffa500"/>
<rect x="370.4" y="156.0" width="57.0" height="43.2" fill="#fff"/>
<rect x="372.4" y="158.0" width="53.1" height="39.4" fill="#fff" stroke="#000" stroke-width="1.2"/>
<circle cx="385.8" cy="166.4" r="3.0" fill="#ffa500"/>
<line x1="376.6" y1="177.5" x2="395.0" y2="177.5" stroke="#000" stroke-width="2.2" stroke-dasharray="4.3 4.25"/>
<line x1="376.7" y1="189.2" x2="395.2" y2="189.2" stroke="#888" stroke-width="1.0"/>
<text transform="translate(399.41,169.60) scale(0.9538,1)" font-family="'Liberation Sans'" font-style="normal" font-size="9.30" fill="#000">Data</text>
<text transform="translate(399.46,180.60) scale(0.8821,1)" font-family="'Liberation Sans'" font-style="normal" font-size="9.30" fill="#000">Fit</text>
<text transform="translate(399.37,192.30) scale(1.0068,1)" font-family="'Liberation Sans'" font-style="normal" font-size="9.30" fill="#000">Nat. τ</text>
<path d="M395.3 300.6L401.9 312.1L397.5 308.9L397.5 320.1L393.1 320.1L393.1 308.9L388.7 312.1Z" fill="#ec1c2c"/>
<path d="M433.2 238.0L439.9 249.5L435.4 246.3L435.4 257.4L431.1 257.4L431.1 246.3L426.6 249.5Z" fill="#0000ff"/>
<path d="M623.0 175.0L629.6 186.5L625.2 183.3L625.2 195.0L620.8 195.0L620.8 183.3L616.4 186.5Z" fill="#10c810"/>
<path d="M527.9 187.2Q530.2 194.6 534.6 199.4Q530.6 197.6 527.9 197.0Q525.2 197.6 521.2 199.4Q525.6 194.6 527.9 187.2Z" fill="#1a1a1a"/>
<rect x="526.0" y="196.4" width="3.8" height="6.8" fill="#1a1a1a"/>
<rect x="526.0" y="205.2" width="3.8" height="6.0" fill="#1a1a1a"/>
<rect x="526.0" y="217.9" width="3.8" height="5.7" fill="#1a1a1a"/>
<rect x="526.0" y="230.2" width="3.8" height="3.1" fill="#1a1a1a"/>
<text transform="translate(501.71,235.00) scale(0.9185,1)" font-family="'Liberation Serif'" font-style="normal" font-size="18.00" fill="#2b2b2b">1</text>
<line x1="492.7" y1="242.5" x2="518.8" y2="242.5" stroke="#2b2b2b" stroke-width="0.9"/>
<text transform="translate(493.10,260.40) scale(1.1270,1)" font-family="'Liberation Serif'" font-style="italic" font-size="16.80" fill="#2b2b2b">τ</text>
<text transform="translate(500.71,262.20) scale(1.1263,1)" font-family="'Liberation Serif'" font-style="italic" font-size="14.00" fill="#2b2b2b">tot</text>
<text transform="translate(526.07,248.21) scale(1.5435,1)" font-family="'Liberation Serif'" font-style="normal" font-size="17.00" fill="#2b2b2b">=</text>
<text transform="translate(550.57,235.00) scale(0.9481,1)" font-family="'Liberation Serif'" font-style="normal" font-size="18.00" fill="#2b2b2b">1</text>
<line x1="547.4" y1="242.5" x2="561.9" y2="242.5" stroke="#2b2b2b" stroke-width="0.9"/>
<text transform="translate(547.91,260.40) scale(1.1111,1)" font-family="'Liberation Serif'" font-style="italic" font-size="16.80" fill="#2b2b2b">τ</text>
<text transform="translate(555.40,262.20) scale(1.1320,1)" font-family="'Liberation Serif'" font-style="normal" font-size="14.00" fill="#2b2b2b">s</text>
<text transform="translate(567.95,249.99) scale(1.1152,1)" font-family="'Liberation Serif'" font-style="normal" font-size="22.00" fill="#2b2b2b">+</text>
<text transform="translate(594.89,234.60) scale(1.0340,1)" font-family="'Liberation Serif'" font-style="italic" font-size="16.80" fill="#2b2b2b">p</text>
<text transform="translate(604.01,237.80) scale(0.8714,1)" font-family="'Liberation Serif'" font-style="italic" font-size="14.00" fill="#2b2b2b">d</text>
<line x1="588.1" y1="242.5" x2="616.8" y2="242.5" stroke="#2b2b2b" stroke-width="0.9"/>
<text transform="translate(589.10,260.40) scale(1.1429,1)" font-family="'Liberation Serif'" font-style="italic" font-size="16.80" fill="#2b2b2b">τ</text>
<text transform="translate(597.08,261.90) scale(1.0221,1)" font-family="'Liberation Serif'" font-style="normal" font-size="14.00" fill="#2b2b2b">rep</text>
<text transform="translate(507.12,286.90) scale(1.0794,1)" font-family="'Liberation Serif'" font-style="italic" font-size="16.80" fill="#2b2b2b">τ</text>
<text transform="translate(513.63,289.40) scale(1.3061,1)" font-family="'Liberation Serif'" font-style="normal" font-size="14.00" fill="#2b2b2b">s</text>
<text transform="translate(525.82,287.31) scale(1.4808,1)" font-family="'Liberation Serif'" font-style="normal" font-size="17.00" fill="#2b2b2b">=</text>
<text transform="translate(545.65,287.00) scale(0.9700,1)" font-family="'Liberation Serif'" font-style="normal" font-size="18.00" fill="#2b2b2b">248</text>
<text transform="translate(572.60,287.00) scale(1.1551,1)" font-family="'Liberation Serif'" font-style="italic" font-size="16.80" fill="#2b2b2b">μ</text>
<text transform="translate(582.80,287.00) scale(1.2588,1)" font-family="'Liberation Serif'" font-style="italic" font-size="16.80" fill="#2b2b2b">s</text>
<text transform="translate(504.77,313.80) scale(0.9252,1)" font-family="'Liberation Serif'" font-style="italic" font-size="16.80" fill="#2b2b2b">p</text>
<text transform="translate(513.31,316.30) scale(0.8714,1)" font-family="'Liberation Serif'" font-style="italic" font-size="14.00" fill="#2b2b2b">d</text>
<text transform="translate(525.82,314.61) scale(1.4808,1)" font-family="'Liberation Serif'" font-style="normal" font-size="17.00" fill="#2b2b2b">=</text>
<text transform="translate(545.65,314.00) scale(0.9848,1)" font-family="'Liberation Serif'" font-style="normal" font-size="18.00" fill="#2b2b2b">0.001</text>
</svg>
</body></html>
